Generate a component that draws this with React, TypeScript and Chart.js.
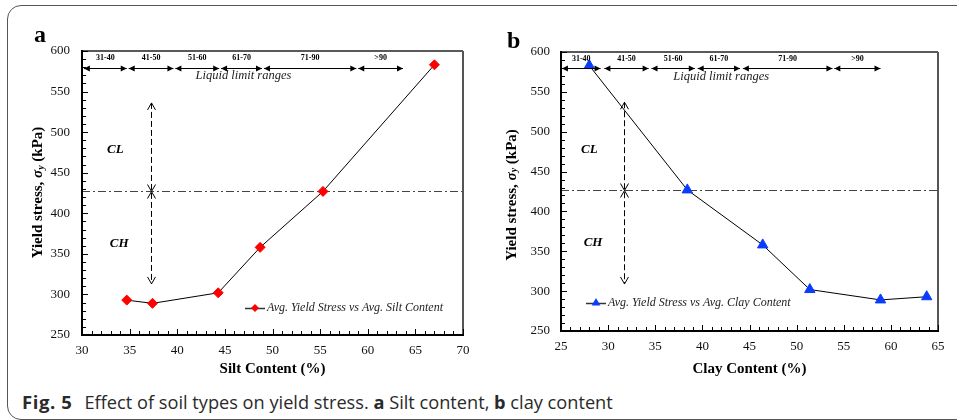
import React, { useEffect, useRef } from 'react';
import { Chart, registerables } from 'chart.js';

Chart.register(...registerables);

// ---------- data ----------
const siltContent = [34.7, 37.4, 44.3, 48.7, 55.3, 67.0];
const siltYieldStress = [293, 289, 302, 358, 427, 583];

const clayContent = [28.0, 38.4, 46.4, 51.4, 58.9, 63.8];
const clayYieldStress = [583, 427, 358, 302, 289, 293];

const liquidLimitLabels = ['31-40', '41-50', '51-60', '61-70', '71-90', '>90'];
const siltRangeStarts = [30.2, 34.9, 39.8, 44.6, 49.1, 59.0];
const siltRangeEnds = [34.7, 39.6, 44.4, 48.9, 58.8, 63.7];
const clayRangeStarts = [25.1, 29.6, 34.6, 39.5, 44.3, 54.0];
const clayRangeEnds = [29.2, 34.3, 39.2, 44.0, 53.8, 58.9];

const yRange = [250, 600];
const siltXRange = [30, 70];
const clayXRange = [25, 65];

const clChBoundary = 427; // yield stress separating CL / CH
const siltArrow = [37.2, 313, 536]; // x, bottom, top
const clayArrow = [31.65, 309, 537];
const siltClCh = [33.5, 478, 33.9, 362]; // CL x,y  CH x,y
const clayClCh = [28.0, 477, 28.4, 361];
const rangeLabelY = 591;
const rangeLineY = 579.5;
const rangeCaptionY = 569.5;

const SERIF = '"Liberation Serif", "Times New Roman", serif';

type Panel = {
  id: string;
  letter: string;
  pageLeft: number;
  width: number;
  height: number;
  xs: number[];
  ys: number[];
  xRange: number[];
  xTitle: string;
  legendText: string;
  pointStyle: 'rectRot' | 'triangle';
  pointColor: string;
  pointRadius: number;
  rangeStarts: number[];
  rangeEnds: number[];
  arrow: number[];
  clch: number[];
  padTop: number;
  padRight: number;
  yAxisWidth: number;
  xAxisHeight: number;
  yTickPad: number;
  yTitleX: number;
  yTitleY: number;
  letterX: number;
  letterY: number;
  legendX: number;
  legendY: number;
};

const panels: Panel[] = [
  {
    id: 'a', letter: 'a', pageLeft: 0, width: 480, height: 380,
    xs: siltContent, ys: siltYieldStress, xRange: siltXRange,
    xTitle: 'Silt Content (%)',
    legendText: 'Avg. Yield Stress vs Avg. Silt Content',
    pointStyle: 'rectRot', pointColor: '#ff0000', pointRadius: 5,
    rangeStarts: siltRangeStarts, rangeEnds: siltRangeEnds,
    arrow: siltArrow, clch: siltClCh,
    padTop: 51, padRight: 17, yAxisWidth: 82, xAxisHeight: 45, yTickPad: 12,
    yTitleX: 38.5, yTitleY: 192.5, letterX: 34, letterY: 42,
    legendX: 245, legendY: 308,
  },
  {
    id: 'b', letter: 'b', pageLeft: 480, width: 477, height: 380,
    xs: clayContent, ys: clayYieldStress, xRange: clayXRange,
    xTitle: 'Clay Content (%)',
    legendText: 'Avg. Yield Stress vs Avg. Clay Content',
    pointStyle: 'triangle', pointColor: '#0a3cff', pointRadius: 6,
    rangeStarts: clayRangeStarts, rangeEnds: clayRangeEnds,
    arrow: clayArrow, clch: clayClCh,
    padTop: 52, padRight: 19, yAxisWidth: 81, xAxisHeight: 49, yTickPad: 11,
    yTitleX: 31.7, yTitleY: 195, letterX: 27, letterY: 48,
    legendX: 106, legendY: 303,
  },
];

function chevron(ctx: CanvasRenderingContext2D, x: number, tipY: number, up: boolean) {
  const d = up ? 7 : -7;
  ctx.beginPath();
  ctx.moveTo(x - 4, tipY + d);
  ctx.lineTo(x, tipY);
  ctx.lineTo(x + 4, tipY + d);
  ctx.stroke();
}

function filledHead(ctx: CanvasRenderingContext2D, tipX: number, y: number, dir: number) {
  ctx.beginPath();
  ctx.moveTo(tipX, y);
  ctx.lineTo(tipX - dir * 6, y - 3);
  ctx.lineTo(tipX - dir * 6, y + 3);
  ctx.closePath();
  ctx.fill();
}

function drawMarker(ctx: CanvasRenderingContext2D, style: string, x: number, y: number, r: number, color: string) {
  ctx.fillStyle = color;
  ctx.beginPath();
  if (style === 'rectRot') {
    ctx.moveTo(x, y - r);
    ctx.lineTo(x + r, y);
    ctx.lineTo(x, y + r);
    ctx.lineTo(x - r, y);
  } else {
    ctx.moveTo(x, y - r);
    ctx.lineTo(x + r * 0.866, y + r * 0.5);
    ctx.lineTo(x - r * 0.866, y + r * 0.5);
  }
  ctx.closePath();
  ctx.fill();
}

function makeOverlay(p: Panel) {
  return {
    id: 'overlay' + p.id,
    beforeDatasetsDraw(chart: any) {
      const { ctx, chartArea: ca } = chart;
      const x = chart.scales.x;
      const y = chart.scales.y;
      ctx.save();
      // dash-dot CL/CH boundary
      const by = Math.round(y.getPixelForValue(clChBoundary)) + 0.5;
      ctx.strokeStyle = '#444';
      ctx.lineWidth = 1;
      ctx.setLineDash([8, 3, 2, 3]);
      ctx.beginPath();
      ctx.moveTo(ca.left, by);
      ctx.lineTo(ca.right, by);
      ctx.stroke();
      // vertical dashed double arrows
      const ax = Math.round(x.getPixelForValue(p.arrow[0])) + 0.5;
      const yb = y.getPixelForValue(p.arrow[1]);
      const yt = y.getPixelForValue(p.arrow[2]);
      ctx.strokeStyle = '#000';
      ctx.setLineDash([6, 3]);
      ctx.beginPath();
      ctx.moveTo(ax, yt);
      ctx.lineTo(ax, yb);
      ctx.stroke();
      ctx.setLineDash([]);
      chevron(ctx, ax, yt, true);
      chevron(ctx, ax, by, false);
      chevron(ctx, ax, by, true);
      chevron(ctx, ax, yb, false);
      ctx.restore();
    },
    afterDraw(chart: any) {
      const { ctx, chartArea: ca } = chart;
      const x = chart.scales.x;
      const y = chart.scales.y;
      ctx.save();
      // frame
      ctx.strokeStyle = '#222';
      ctx.lineWidth = 1.5;
      ctx.beginPath();
      ctx.moveTo(ca.left, ca.top);
      ctx.lineTo(ca.right, ca.top);
      ctx.stroke();
      ctx.strokeStyle = '#555';
      ctx.lineWidth = 2;
      ctx.beginPath();
      ctx.moveTo(ca.right, ca.top);
      ctx.lineTo(ca.right, ca.bottom);
      ctx.stroke();
      ctx.strokeStyle = '#000';
      ctx.lineWidth = 2;
      ctx.beginPath();
      ctx.moveTo(ca.left, ca.top - 1);
      ctx.lineTo(ca.left, ca.bottom);
      ctx.lineTo(ca.right + 1, ca.bottom);
      ctx.stroke();
      // inward ticks
      ctx.lineWidth = 1;
      for (let v = yRange[0]; v <= yRange[1]; v += 10) {
        const py = Math.round(y.getPixelForValue(v)) + 0.5;
        const len = v % 50 === 0 ? 6 : 4;
        ctx.beginPath();
        ctx.moveTo(ca.left, py);
        ctx.lineTo(ca.left + len, py);
        ctx.stroke();
      }
      for (let v = p.xRange[0]; v <= p.xRange[1]; v += 1) {
        const px = Math.round(x.getPixelForValue(v)) + 0.5;
        const len = v % 5 === 0 ? 6 : 4;
        ctx.beginPath();
        ctx.moveTo(px, ca.bottom);
        ctx.lineTo(px, ca.bottom - len);
        ctx.stroke();
      }
      // liquid limit ranges
      const ly = Math.round(y.getPixelForValue(rangeLineY)) + 0.5;
      const lby = y.getPixelForValue(rangeLabelY);
      ctx.fillStyle = '#000';
      ctx.strokeStyle = '#000';
      ctx.font = 'bold 8px ' + SERIF;
      ctx.textAlign = 'center';
      ctx.textBaseline = 'middle';
      for (let i = 0; i < liquidLimitLabels.length; i++) {
        const x1 = x.getPixelForValue(p.rangeStarts[i]);
        const x2 = x.getPixelForValue(p.rangeEnds[i]);
        ctx.beginPath();
        ctx.moveTo(x1, ly);
        ctx.lineTo(x2, ly);
        ctx.stroke();
        filledHead(ctx, x1, ly, -1);
        filledHead(ctx, x2, ly, 1);
        ctx.fillText(liquidLimitLabels[i], (x1 + x2) / 2, lby);
      }
      const spanMid = (p.rangeStarts[0] + p.rangeEnds[p.rangeEnds.length - 1]) / 2;
      ctx.font = 'italic 12.5px ' + SERIF;
      ctx.fillStyle = '#222';
      ctx.fillText('Liquid limit ranges', x.getPixelForValue(spanMid), y.getPixelForValue(rangeCaptionY));
      // CL / CH
      ctx.font = 'italic bold 13px ' + SERIF;
      ctx.fillStyle = '#000';
      ctx.fillText('CL', x.getPixelForValue(p.clch[0]), y.getPixelForValue(p.clch[1]));
      ctx.fillText('CH', x.getPixelForValue(p.clch[2]), y.getPixelForValue(p.clch[3]));
      // legend
      ctx.strokeStyle = '#333';
      ctx.lineWidth = 1.5;
      ctx.beginPath();
      ctx.moveTo(p.legendX, p.legendY + 0.5);
      ctx.lineTo(p.legendX + 20, p.legendY + 0.5);
      ctx.stroke();
      drawMarker(ctx, p.pointStyle, p.legendX + 10, p.legendY, p.pointRadius - 1, p.pointColor);
      ctx.fillStyle = '#222';
      ctx.font = 'italic 12px ' + SERIF;
      ctx.textAlign = 'left';
      ctx.fillText(p.legendText, p.legendX + 22, p.legendY);
      // panel letter
      ctx.fillStyle = '#000';
      ctx.font = 'bold 24px ' + SERIF;
      ctx.textBaseline = 'alphabetic';
      ctx.fillText(p.letter, p.letterX, p.letterY);
      // y title with subscript
      ctx.translate(p.yTitleX, p.yTitleY);
      ctx.rotate(-Math.PI / 2);
      const parts = [
        { t: 'Yield stress, ', f: 'bold 15px ' + SERIF, dy: 0 },
        { t: '\u03c3', f: 'italic bold 15px ' + SERIF, dy: 0 },
        { t: 'y', f: 'italic bold 10px ' + SERIF, dy: 3 },
        { t: ' (kPa)', f: 'bold 15px ' + SERIF, dy: 0 },
      ];
      let total = 0;
      for (const part of parts) {
        ctx.font = part.f;
        total += ctx.measureText(part.t).width;
      }
      let cx = -total / 2;
      ctx.textBaseline = 'middle';
      for (const part of parts) {
        ctx.font = part.f;
        ctx.fillText(part.t, cx, part.dy);
        cx += ctx.measureText(part.t).width;
      }
      ctx.restore();
    },
  };
}

function PanelChart({ p }: { p: Panel }) {
  const ref = useRef<HTMLCanvasElement | null>(null);
  useEffect(() => {
    if (!ref.current) return;
    const chart = new Chart(ref.current, {
      type: 'scatter',
      data: {
        datasets: [
          {
            label: p.legendText,
            data: p.xs.map((v, i) => ({ x: v, y: p.ys[i] })),
            showLine: true,
            borderColor: '#000',
            borderWidth: 1,
            pointStyle: p.pointStyle,
            pointRadius: p.pointRadius,
            pointBackgroundColor: p.pointColor,
            pointBorderColor: p.pointColor,
            pointBorderWidth: 1,
          },
        ],
      },
      options: {
        animation: false,
        responsive: false,
        devicePixelRatio: 1,
        events: [],
        layout: { padding: { left: 0, top: p.padTop, right: p.padRight, bottom: 0 } },
        plugins: { legend: { display: false }, tooltip: { enabled: false }, title: { display: false } },
        scales: {
          x: {
            type: 'linear',
            min: p.xRange[0],
            max: p.xRange[1],
            grid: { display: false, drawTicks: false },
            border: { display: false },
            ticks: {
              stepSize: 5,
              autoSkip: false,
              maxRotation: 0,
              padding: 8,
              color: '#111',
              font: { family: SERIF, size: 13 },
            },
            title: {
              display: true,
              text: p.xTitle,
              color: '#000',
              font: { family: SERIF, size: 15, weight: 'bold' },
              padding: { top: 0, bottom: 2 },
            },
            afterFit: (s: any) => { s.height = p.xAxisHeight; },
          },
          y: {
            type: 'linear',
            min: yRange[0],
            max: yRange[1],
            grid: { display: false, drawTicks: false },
            border: { display: false },
            ticks: {
              stepSize: 50,
              padding: p.yTickPad,
              color: '#111',
              font: { family: SERIF, size: 13 },
            },
            afterFit: (s: any) => { s.width = p.yAxisWidth; },
          },
        },
      } as any,
      plugins: [makeOverlay(p)],
    });
    return () => chart.destroy();
  }, [p]);
  return (
    <canvas
      ref={ref}
      width={p.width}
      height={p.height}
      style={{ position: 'absolute', left: p.pageLeft, top: 0, width: p.width, height: p.height }}
    />
  );
}

export default function App() {
  return (
    <div style={{ position: 'fixed', left: 0, top: 0, width: 957, height: 420, overflow: 'hidden', background: '#fff' }}>
      <div
        style={{
          position: 'absolute', left: 7, top: 5, width: 1000, height: 415, boxSizing: 'border-box',
          border: '1.5px solid #555', borderRadius: 14,
        }}
      />
      {panels.map((p) => (
        <PanelChart key={p.id} p={p} />
      ))}
      <div
        style={{
          position: 'absolute', left: 22, top: 390, whiteSpace: 'nowrap', color: '#2a2a2a',
          fontFamily: '"Open Sans", "Noto Sans", sans-serif', fontSize: 18.2, lineHeight: '24px',
        }}
      >
        <b style={{ marginRight: 12, letterSpacing: 0.6, fontSize: 18.5 }}>Fig.&nbsp;5</b>Effect of soil types on yield stress. <b>a</b> Silt content, <b>b</b> clay content
      </div>
    </div>
  );
}
